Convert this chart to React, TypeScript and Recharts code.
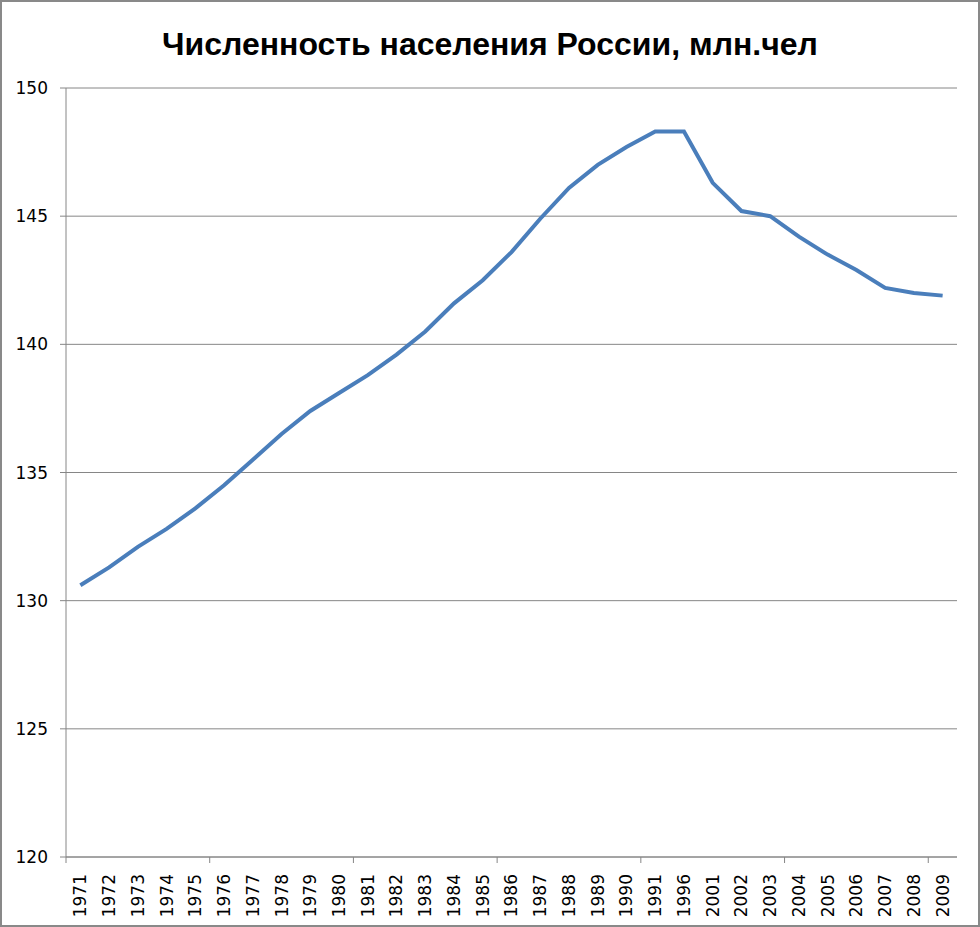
import { CartesianGrid, Line, LineChart, XAxis, YAxis } from "recharts";

const years = [
  "1971", "1972", "1973", "1974", "1975", "1976", "1977", "1978", "1979", "1980",
  "1981", "1982", "1983", "1984", "1985", "1986", "1987", "1988", "1989", "1990",
  "1991", "1996", "2001", "2002", "2003", "2004", "2005", "2006", "2007", "2008", "2009",
];

const population = [
  130.6, 131.3, 132.1, 132.8, 133.6, 134.5, 135.5, 136.5, 137.4, 138.1,
  138.8, 139.6, 140.5, 141.6, 142.5, 143.6, 144.9, 146.1, 147.0, 147.7,
  148.3, 148.3, 146.3, 145.2, 145.0, 144.2, 143.5, 142.9, 142.2, 142.0, 141.9,
];

const yTicks = [120, 125, 130, 135, 140, 145, 150];

const data = years.map((year, i) => ({ year, value: population[i] }));

const axisGrey = "#868686";
const font = "'DejaVu Sans', sans-serif";

// rotated year labels, plus a tick mark on the band edge every 5 categories
function YearTick(props: any) {
  const { x, y, payload, index, width } = props;
  const step = width / years.length;
  const edge = x - step / 2;
  const axisY = y - 8;
  const ty = y + 9;
  return (
    <g>
      {index % 5 === 0 && (
        <line x1={edge} x2={edge} y1={axisY} y2={axisY + 6} stroke={axisGrey} />
      )}
      <text
        x={x}
        y={ty}
        transform={`rotate(-90, ${x}, ${ty})`}
        textAnchor="end"
        dy="0.35em"
        fontFamily={font}
        fontSize={17}
        fill="#000"
      >
        {payload.value}
      </text>
    </g>
  );
}

export default function App() {
  return (
    <div
      style={{
        position: "absolute",
        left: 0,
        top: 0,
        width: 980,
        height: 927,
        background: "#fff",
      }}
    >
      <div
        style={{
          position: "absolute",
          left: 0,
          top: 24,
          width: 980,
          textAlign: "center",
          fontFamily: "'Liberation Sans', sans-serif",
          fontWeight: "bold",
          fontSize: 32,
          lineHeight: "40px",
          color: "#000",
        }}
      >
        Численность населения России, млн.чел
      </div>
      <LineChart
        width={980}
        height={927}
        data={data}
        margin={{ top: 88, right: 23, left: 6, bottom: 10 }}
      >
        <CartesianGrid vertical={false} stroke={axisGrey} strokeWidth={1} />
        <XAxis
          dataKey="year"
          scale="band"
          interval={0}
          height={60}
          axisLine={{ stroke: axisGrey }}
          tickLine={false}
          tick={<YearTick />}
        />
        <YAxis
          domain={[120, 150]}
          ticks={yTicks}
          width={60}
          axisLine={{ stroke: axisGrey }}
          tickLine={{ stroke: axisGrey }}
          tickSize={6}
          tickMargin={12}
          tick={{ fill: "#000", fontFamily: font, fontSize: 17 }}
        />
        <Line
          type="linear"
          dataKey="value"
          stroke="#4A7EBB"
          strokeWidth={4}
          dot={false}
          isAnimationActive={false}
        />
      </LineChart>
      <div
        style={{
          position: "absolute",
          inset: 0,
          border: "2px solid #898989",
          pointerEvents: "none",
        }}
      />
    </div>
  );
}
